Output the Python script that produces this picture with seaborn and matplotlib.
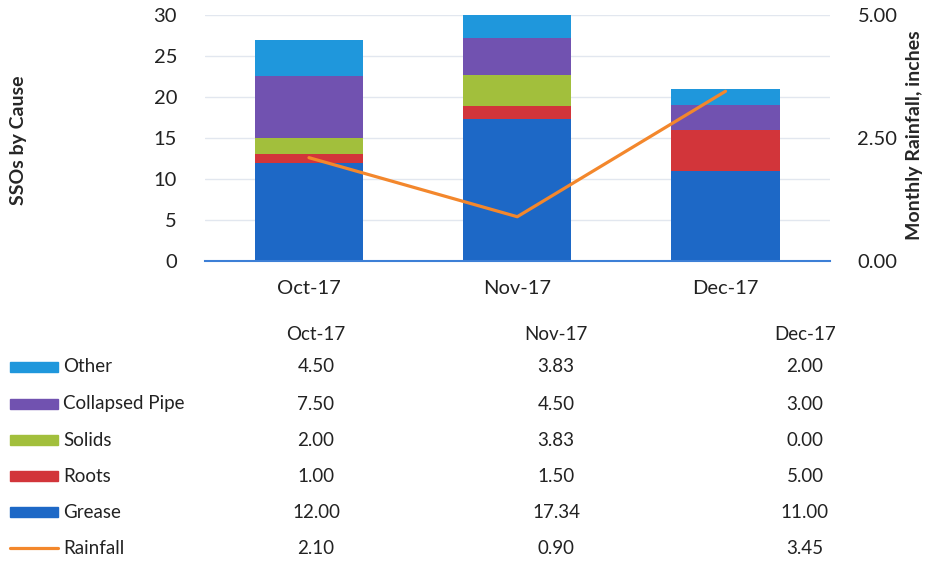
import matplotlib
matplotlib.use('Agg')
import matplotlib.pyplot as plt
import matplotlib.patches as mpatches
import numpy as np
import pandas as pd
import seaborn as sns

# Data
months = ['Oct-17', 'Nov-17', 'Dec-17']
grease = [12.00, 17.34, 11.00]
roots = [1.00, 1.50, 5.00]
solids = [2.00, 3.83, 0.00]
collapsed = [7.50, 4.50, 3.00]
other = [4.50, 3.83, 2.00]
rainfall = [2.10, 0.90, 3.45]

causes = ['Grease', 'Roots', 'Solids', 'Collapsed Pipe', 'Other']
series = {'Grease': grease, 'Roots': roots, 'Solids': solids,
          'Collapsed Pipe': collapsed, 'Other': other}
colors = {'Other': '#1f97dc', 'Collapsed Pipe': '#7152b0', 'Solids': '#a2bf3c',
          'Roots': '#d2353a', 'Grease': '#1d68c6', 'Rainfall': '#f3872c'}

sns.set_style('white')
plt.rcParams['font.family'] = ['Lato', 'DejaVu Sans']

fig = plt.figure(figsize=(9.27, 5.63), dpi=100)
ax = fig.add_axes([0.221, 0.5364, 0.674, 0.437])

# stacked bars: draw cumulative totals from the top down
cum = pd.DataFrame(series, index=months).cumsum(axis=1)
for cause in reversed(causes):
    sns.barplot(x=months, y=cum[cause].values, color=colors[cause], width=0.52,
                saturation=1, linewidth=0, ax=ax, zorder=2)

ax.set_ylim(0, 30)
ax.set_xlim(-0.5, 2.5)
ax.set_yticks(range(0, 31, 5))
ax.yaxis.grid(True, color='#e2e7ef', linewidth=1, zorder=0)
ax.set_axisbelow(True)
for s in ['top', 'left', 'right']:
    ax.spines[s].set_visible(False)
ax.spines['bottom'].set_color('#3d7fd6')
ax.spines['bottom'].set_linewidth(1.5)
ax.tick_params(axis='both', length=0, labelsize=14.5, colors='#222222')
ax.tick_params(axis='y', pad=20)
ax.tick_params(axis='x', pad=14)
ax.set_ylabel('SSOs by Cause', fontsize=14, fontweight='bold')
ax.yaxis.set_label_coords(-0.284, 0.49)

# rainfall line on the secondary axis
ax2 = ax.twinx()
sns.lineplot(x=[0, 1, 2], y=rainfall, color=colors['Rainfall'], linewidth=2.3, ax=ax2)
ax2.set_ylim(0, 5)
ax2.set_xlim(-0.5, 2.5)
ax2.set_yticks([0, 2.5, 5])
ax2.set_yticklabels(['0.00', '2.50', '5.00'])
ax2.tick_params(axis='y', length=0, labelsize=14.5, pad=20, colors='#222222')
for s in ax2.spines.values():
    s.set_visible(False)
ax2.set_ylabel('Monthly Rainfall, inches', fontsize=14, fontweight='bold')
ax2.yaxis.set_label_coords(1.122, 0.51)

# data table below the chart
col_x = [316 / 927, 556 / 927, 805 / 927]
row_y = [367, 404, 440, 476, 512, 548]
rows = [('Other', other), ('Collapsed Pipe', collapsed), ('Solids', solids),
        ('Roots', roots), ('Grease', grease), ('Rainfall', rainfall)]

for m, cx in zip(months, col_x):
    fig.text(cx, 1 - 335 / 563, m, ha='center', va='center', fontsize=13.5, color='#222222')

for (name, vals), ry in zip(rows, row_y):
    yf = 1 - ry / 563
    if name == 'Rainfall':
        fig.add_artist(plt.Line2D([10 / 927, 58 / 927], [yf, yf], color=colors[name],
                                  linewidth=2.3, transform=fig.transFigure))
    else:
        fig.add_artist(mpatches.Rectangle((10 / 927, yf - 5 / 563), 48 / 927, 10 / 563,
                                          color=colors[name], transform=fig.transFigure))
    fig.text(63 / 927, yf, name, ha='left', va='center', fontsize=13.5, color='#222222')
    for v, cx in zip(vals, col_x):
        fig.text(cx, yf, f'{v:.2f}', ha='center', va='center', fontsize=13.5, color='#222222')

fig.savefig('out.png', dpi=100)
